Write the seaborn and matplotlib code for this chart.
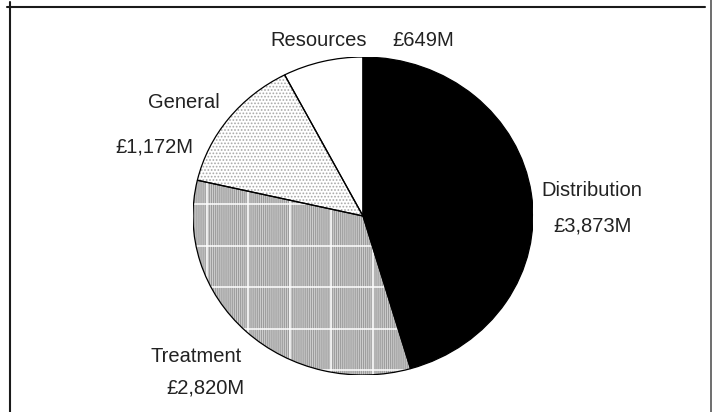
import numpy as np
import matplotlib
matplotlib.use("Agg")
import matplotlib.pyplot as plt
from matplotlib.patches import Wedge
from matplotlib.lines import Line2D
import seaborn as sns

# Spending by area (£ millions)
categories = ["Distribution", "Treatment", "General", "Resources"]
values = [3873, 2820, 1172, 649]

sns.set_style("white")
plt.rcParams["font.family"] = ["Liberation Sans", "DejaVu Sans"]
plt.rcParams["hatch.linewidth"] = 0.8

W, H = 715, 412
fig = plt.figure(figsize=(W / 100, H / 100), dpi=100)
ax = fig.add_axes([193 / W, (H - 375) / H, 340 / W, 318 / H])

fills = ["black", "#cfcfcf", "white", "white"]
hatches = [None, "||||||||", ".....", None]
hatch_colors = [None, "#9c9c9c", "#a8a8a8", None]

wedges, _ = ax.pie(values, colors=fills, startangle=90, counterclock=False,
                   wedgeprops=dict(edgecolor="none", linewidth=0))
ax.set_aspect("auto")
ax.set_xlim(-1, 1)
ax.set_ylim(-1, 1)
ax.axis("off")

for w, h, hc in zip(wedges, hatches, hatch_colors):
    z = w.get_zorder()
    if h:
        ov = Wedge(w.center, w.r, w.theta1, w.theta2, facecolor="none",
                   edgecolor=hc, linewidth=0, hatch=h, zorder=z + 0.1)
        ax.add_patch(ov)
    outline = Wedge(w.center, w.r, w.theta1, w.theta2, facecolor="none",
                    edgecolor="black", linewidth=0.9, zorder=z + 0.3)
    ax.add_patch(outline)

# White grid over the Treatment slice
treat = wedges[1]
xs = (10 + 41.5 * np.arange(-5, 2)) / 170
ys = (12 - 41.5 * np.arange(-2, 6)) / 159
for x in xs:
    ln = ax.axvline(x, color="white", linewidth=1.1, zorder=treat.get_zorder() + 0.2)
    ln.set_clip_path(treat)
for y in ys:
    ln = ax.axhline(y, color="white", linewidth=1.1, zorder=treat.get_zorder() + 0.2)
    ln.set_clip_path(treat)

# Labels
def money(v):
    return f"£{v:,}M"

label_pos = {
    "Distribution": ((592, 190), (593, 226)),
    "Treatment": ((196, 356), (205, 388)),
    "General": ((184, 103), (154, 147)),
    "Resources": ((319, 40), (423, 40)),
}
fs = 14.5
for cat, v in zip(categories, values):
    (nx, ny), (vx, vy) = label_pos[cat]
    fig.text(nx / W, 1 - ny / H, cat, ha="center", va="center", fontsize=fs, color="#222222")
    fig.text(vx / W, 1 - vy / H, money(v), ha="center", va="center", fontsize=fs, color="#222222")

# Frame lines
fig.add_artist(Line2D([7 / W, 705 / W], [1 - 7 / H, 1 - 7 / H], transform=fig.transFigure,
                      color="#1a1a1a", linewidth=1.5))
fig.add_artist(Line2D([10 / W, 10 / W], [1 - 2 / H, 0], transform=fig.transFigure,
                      color="#1a1a1a", linewidth=1.5))
fig.add_artist(Line2D([711 / W, 711 / W], [1, 0], transform=fig.transFigure,
                      color="#555555", linewidth=1.2))

fig.savefig("out.png", dpi=100)
